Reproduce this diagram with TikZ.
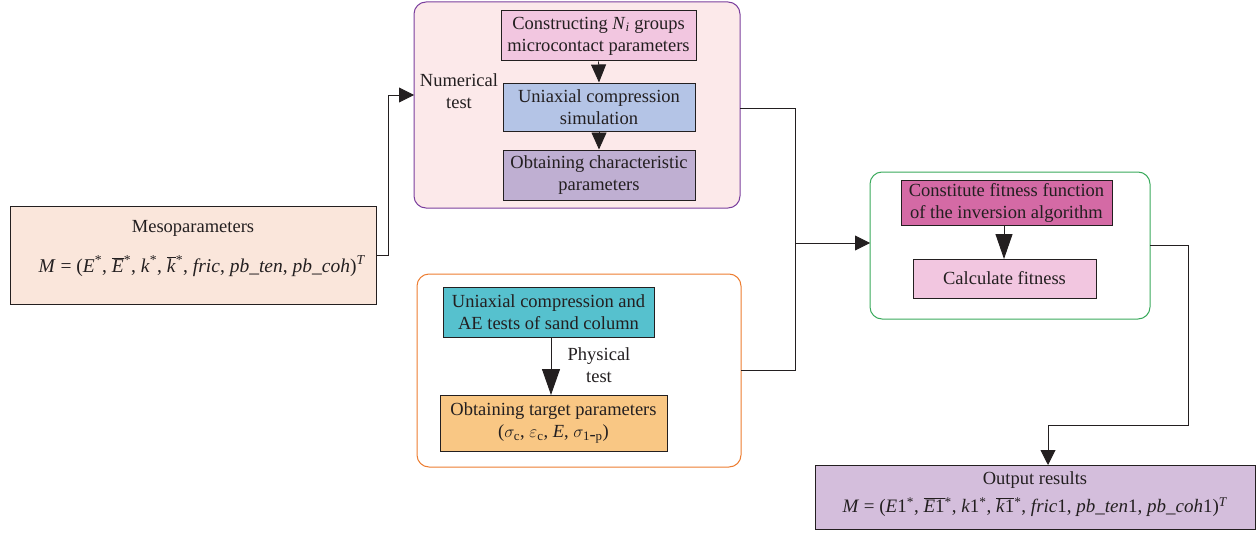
\documentclass[tikz,border=0pt]{standalone}
\usepackage{fontspec}
\setmainfont{Liberation Serif}
\usetikzlibrary{arrows.meta}
\definecolor{lineC}{HTML}{231F20}
\definecolor{mesoF}{HTML}{FAE6DB}
\definecolor{numF}{HTML}{FCE9EA}
\definecolor{numB}{HTML}{7B3F9E}
\definecolor{physB}{HTML}{ED7D31}
\definecolor{fitB}{HTML}{3AAA5C}
\definecolor{pinkF}{HTML}{F2C6E0}
\definecolor{blueF}{HTML}{B4C4E6}
\definecolor{purpF}{HTML}{BFAFD2}
\definecolor{tealF}{HTML}{56C1CE}
\definecolor{orangeF}{HTML}{F9C784}
\definecolor{magF}{HTML}{D46AA5}
\definecolor{outF}{HTML}{D4BEDC}
\newcommand{\iv}[1]{\textit{#1}}
\newcommand{\st}{\textsuperscript{*}}
\newcommand{\ob}[1]{$\overline{\mbox{#1}}$}
\tikzset{
  box/.style={draw=lineC, line width=1pt, align=center, inner sep=0pt, text=lineC},
  cont/.style={rounded corners=12pt, line width=1pt},
  conn/.style={draw=lineC, line width=0.9pt},
  tipS/.style={-{Triangle[length=15pt,width=15pt]}},
  tipL/.style={-{Triangle[length=26pt,width=18pt]}},
  lbl/.style={align=center, inner sep=0pt, text=lineC},
}
\begin{document}
\begin{tikzpicture}[x=1pt,y=-1pt,font=\fontsize{18.5}{22}\selectfont]
\useasboundingbox (0,0) rectangle (1258,535);
% containers
\draw[cont, draw=numB, fill=numF] (414,2) rectangle (740,208);
\node (numc) at (577,105) [minimum width=326pt, minimum height=206pt, inner sep=0pt] {};
\draw[cont, draw=physB, fill=white] (417,274) rectangle (741,467);
\node (physc) at (579,370.5) [minimum width=324pt, minimum height=193pt, inner sep=0pt] {};
\draw[cont, draw=fitB, fill=white] (870,172) rectangle (1150,319);
\node (fitc) at (1010,245.5) [minimum width=280pt, minimum height=147pt, inner sep=0pt] {};
% meso box
\node[box, fill=mesoF, minimum width=366pt, minimum height=98pt] (meso) at (193,255) {};
\node[lbl] (mesoT) at (193,228) {Mesoparameters};
\node[lbl, font=\fontsize{19.5}{22}\selectfont] (mesoF) at (202,266) {\iv{M} = (\iv{E}\st, \ob{\iv{E}}\st, \iv{k}\st, \ob{\iv{k}}\st, \iv{fric}, \iv{pb\_ten}, \iv{pb\_coh})\textsuperscript{\iv{T}}};
% numerical boxes
\node[box, fill=pinkF, minimum width=195pt, minimum height=50pt] (cons) at (598.5,36) {Constructing \iv{N}\textsubscript{\iv{i}} groups\\microcontact parameters};
\node[box, fill=blueF, minimum width=192pt, minimum height=48pt] (uni) at (599,107) {Uniaxial compression\\simulation};
\node[box, fill=purpF, minimum width=192pt, minimum height=50pt] (char) at (599,175) {Obtaining characteristic\\parameters};
\node[lbl] (numL) at (459,91) {Numerical\\test};
% physical boxes
\node[box, fill=tealF, minimum width=211pt, minimum height=50pt] (ae) at (548.5,312) {Uniaxial compression and\\AE tests of sand column};
\node[box, fill=orangeF, minimum width=227pt, minimum height=56pt] (target) at (553.5,423) {Obtaining target parameters\\($\sigma_{\mathrm{c}}$, $\varepsilon_{\mathrm{c}}$, \iv{E}, $\sigma_{\mathrm{1\mbox{-}p}}$)};
\node[lbl] (phyL) at (599,365) {Physical\\test};
% fitness boxes
\node[box, fill=magF, minimum width=211pt, minimum height=45pt] (const) at (1006.5,202.5) {Constitute fitness function\\of the inversion algorithm};
\node[box, fill=pinkF, minimum width=183pt, minimum height=39pt] (calc) at (1004.5,278.5) {Calculate fitness};
% output
\node[box, fill=outF, minimum width=440pt, minimum height=64pt] (out) at (1035,497) {};
\node[lbl] (outT) at (1035,480) {Output results};
\node[lbl, font=\fontsize{19}{22}\selectfont] (outF) at (1035,507) {\iv{M} = (\iv{E}1\st, \ob{\iv{E}1}\st, \iv{k}1\st, \ob{\iv{k}1}\st, \iv{fric}1, \iv{pb\_ten}1, \iv{pb\_coh}1)\textsuperscript{\iv{T}}};
% coordinates
\coordinate (m1) at (388,255);
\coordinate (m2) at (388,95);
\coordinate (nIn) at (414,95);
\coordinate (nOut) at (740,108);
\coordinate (j1) at (795,108);
\coordinate (j2) at (795,243);
\coordinate (pOut) at (741,370);
\coordinate (j3) at (795,370);
\coordinate (fIn) at (870,243);
\coordinate (fOut) at (1150,245);
\coordinate (o1) at (1188,245);
\coordinate (o2) at (1188,425);
\coordinate (o3) at (1048,425);
\coordinate (oIn) at (1048,465);
\coordinate (aeS) at (551,337);
\coordinate (tgN) at (551,395);
\coordinate (cS) at (1004,225);
\coordinate (calcN) at (1004,259);
% connectors
\draw[conn, tipS] (meso.east) -- (m1) -- (m2) -- (nIn);
\draw[conn] (nOut) -- (j1) -- (j2);
\draw[conn] (pOut) -- (j3) -- (j2);
\draw[conn, tipS] (j2) -- (fIn);
\draw[conn] (fOut) -- (o1) -- (o2) -- (o3);
\draw[conn, tipS] (o3) -- (oIn);
\draw[conn, -{Triangle[length=18pt,width=15pt]}] (cons.south) -- (uni.north);
\draw[conn, -{Triangle[length=17pt,width=15pt]}] (uni.south) -- (char.north);
\draw[conn, tipL] (aeS) -- (tgN);
\draw[conn, -{Triangle[length=25pt,width=17pt]}] (cS) -- (calcN);
\end{tikzpicture}
\end{document}
